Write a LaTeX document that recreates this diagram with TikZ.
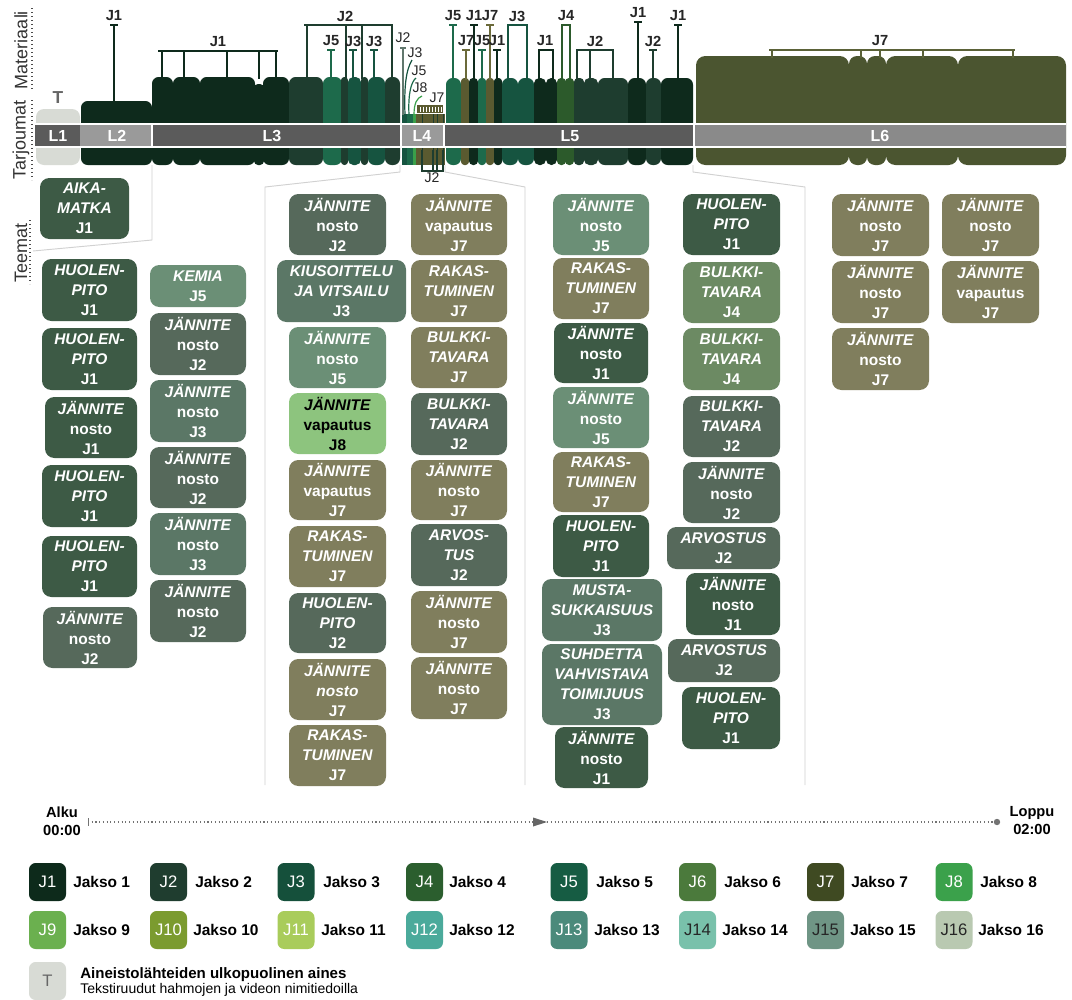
\documentclass[tikz,border=0pt]{standalone}
\usepackage{fontspec}
\setmainfont{Liberation Sans}

% segment colours in the top band
\definecolor{bJ1}{HTML}{0E2A1C}
\definecolor{bJ2}{HTML}{1E3D2F}
\definecolor{bJ3}{HTML}{165440}
\definecolor{bJ4}{HTML}{2C5A2B}
\definecolor{bJ5}{HTML}{1D6A4B}
\definecolor{bJ7}{HTML}{4B5530}
\definecolor{bJ7b}{HTML}{5A5A30}
\definecolor{bJ8}{HTML}{3AA04A}
\definecolor{bT}{HTML}{D8DBD5}
\definecolor{lnJ7}{HTML}{6B6A3A}
\definecolor{lnL6}{HTML}{5B6238}
% theme card colours
\definecolor{cJ1}{HTML}{3D5A45}
\definecolor{cJ2}{HTML}{56695B}
\definecolor{cJ3}{HTML}{5B7766}
\definecolor{cJ4}{HTML}{6C8A63}
\definecolor{cJ5}{HTML}{6B8F76}
\definecolor{cJ7}{HTML}{807E5D}
\definecolor{cJ8}{HTML}{8DC47E}
% legend colours
\definecolor{lJ1}{HTML}{0D2A1B}
\definecolor{lJ2}{HTML}{1F3D2F}
\definecolor{lJ3}{HTML}{15503B}
\definecolor{lJ4}{HTML}{2B5E2E}
\definecolor{lJ5}{HTML}{165C43}
\definecolor{lJ6}{HTML}{4B7A3C}
\definecolor{lJ7}{HTML}{3F4A22}
\definecolor{lJ8}{HTML}{3BA14B}
\definecolor{lJ9}{HTML}{6BB04F}
\definecolor{lJ10}{HTML}{7B9B2F}
\definecolor{lJ11}{HTML}{A9CC5B}
\definecolor{lJ12}{HTML}{4BAA9B}
\definecolor{lJ13}{HTML}{4B8A7B}
\definecolor{lJ14}{HTML}{79C1AB}
\definecolor{lJ15}{HTML}{6F9585}
\definecolor{lJ16}{HTML}{B9C9B1}
\definecolor{barD}{HTML}{5B5B5B}
\definecolor{barL}{HTML}{9A9A9A}
\definecolor{barS}{HTML}{8A8A8A}

\tikzset{
  lw/.style={line width=1.1pt},
  toplab/.style={font=\fontsize{11}{12}\selectfont\bfseries, text=black!85, inner sep=0},
  smalllab/.style={font=\fontsize{10.5}{12}\selectfont, text=black!85, inner sep=0},
  card/.style={rounded corners=7pt, text=white, align=center, inner sep=0,
    font=\fontsize{11.6}{15}\selectfont\bfseries},
  barlab/.style={text=white, font=\fontsize{12}{14}\selectfont\bfseries, inner sep=0},
  axlab/.style={rotate=90, font=\fontsize{13.5}{15}\selectfont, text=black!80, inner sep=0},
  funnel/.style={draw=black!18, line width=0.7pt},
  legbox/.style={rounded corners=5pt, minimum width=27.75pt, minimum height=28.5pt,
    inner sep=0, font=\fontsize{12.5}{14}\selectfont},
  legtxt/.style={font=\fontsize{11.6}{13}\selectfont\bfseries, inner sep=0, anchor=west},
  timelab/.style={align=center, font=\fontsize{11}{13.5}\selectfont\bfseries, inner sep=0},
}

% material block: [radius]{x1}{x2}{top}{colour}
\newcommand\blk[5][5pt]{\fill[#5, rounded corners=#1] (#2,#4) rectangle (#3,165);}
% single marker: {name}{x}{top}{bottom}{colour}{label}
\newcommand\tee[6]{%
  \node[toplab] (#1) at (#2,{#3-9}) {#6};
  \draw[#5,lw] (#2,#3) -- (#2,#4);
  \draw[#5,lw] ({#2-4},#3) -- ({#2+4},#3);}
% bracket: {xa}{xb}{y}{bottom}{colour}{drops}
\newcommand\brk[6]{%
  \draw[#5,lw] (#1,#3) -- (#2,#3);
  \foreach \dx in {#6} {\draw[#5,lw] (\dx,#3) -- (\dx,#4);}}
% theme card: [opts]{name}{x1}{y1}{x2}{y2}{colour}{text}
\newcommand\card[8][]{\node[card, fill=#7, #1,
  minimum width={(#5-#3)*0.75pt}, minimum height={(#6-#4)*0.75pt}]
  (#2) at ({(#3+#5)/2},{(#4+#6)/2}) {#8};}
\newcommand\cjn[1]{\textit{JÄNNITE}\\nosto\\#1}
\newcommand\cjv[1]{\textit{JÄNNITE}\\vapautus\\#1}
\newcommand\chp[1]{\textit{HUOLEN-}\\\textit{PITO}\\#1}
\newcommand\crt[1]{\textit{RAKAS-}\\\textit{TUMINEN}\\#1}
\newcommand\cbt[1]{\textit{BULKKI-}\\\textit{TAVARA}\\#1}
% legend entry: {box x}{y}{fill}{text colour}{label}{caption x}{caption}
\newcommand\legitem[7]{%
  \node[legbox, fill=#3, text=#4] (lg#5) at (#1,#2) {#5};
  \node[legtxt] (lt#5) at (#6,#2) {#7};}

\begin{document}
\begin{tikzpicture}[x=0.75pt,y=-0.75pt]
\useasboundingbox (0,0) rectangle (1072,1000);
\fill[white] (0,0) rectangle (1072,1000);

% ---------- axis titles ----------
\node[axlab] (ax1) at (21,50) {Materiaali};
\node[axlab] (ax2) at (21,140) {Tarjoumat};
\node[axlab] (ax3) at (21,253) {Teemat};
\draw[dotted, line width=1pt, black!70] (32,8) -- (32,90);
\draw[dotted, line width=1pt, black!70] (32,100) -- (32,180);
\draw[dotted, line width=1pt, black!70] (30,220) -- (30,284);

% ---------- material blocks ----------
\blk[6pt]{36}{80}{109}{bT}
\node[font=\fontsize{13}{14}\selectfont\bfseries, text=black!60, inner sep=0] (tmark) at (58,98) {T};
\blk{81}{152}{101}{bJ1}
% L3
\blk{152}{173}{77}{bJ1}
\blk{173}{200}{77}{bJ1}
\blk{200}{255}{77}{bJ1}
\blk[3pt]{254}{264}{84}{bJ1}
\blk{263}{289}{77}{bJ1}
\blk{289}{323}{77}{bJ2}
\blk{323}{342}{77}{bJ5}
\blk[2.5pt]{341}{348}{77}{bJ2}
\blk[4pt]{348}{361}{77}{bJ3}
\blk[2.5pt]{361}{368}{77}{bJ2}
\blk{368}{385}{77}{bJ3}
\blk{385}{400}{77}{bJ2}
% L4
\fill[bJ3] (402,114) rectangle (407,165);
\fill[bJ5] (407,114) rectangle (413,165);
\fill[bJ8] (413,114) rectangle (416,165);
\fill[bJ7b] (416,114) rectangle (445,165);
\foreach \s in {422,433,437,443} \draw[bJ2, line width=0.6pt] (\s,114) -- (\s,165);
\fill[bJ7b] (417,105) rectangle (443,113);
\foreach \s in {420,423,...,441} \draw[white, line width=0.7pt] (\s,106.5) -- (\s,111.5);
% L5
\blk{446}{461}{78}{bJ5}
\blk[2.5pt]{461}{469}{78}{bJ7b}
\blk[3pt]{469}{478}{78}{bJ1}
\blk[2.5pt]{478}{486}{78}{bJ5}
\blk[2.5pt]{486}{494}{78}{bJ7b}
\blk[2.5pt]{494}{502}{78}{bJ1}
\blk{502}{518}{78}{bJ3}
\blk{518}{534}{78}{bJ3}
\blk[4pt]{534}{546}{78}{bJ1}
\blk[4pt]{546}{557}{78}{bJ1}
\blk[3pt]{557}{566}{78}{bJ4}
\blk[3pt]{565}{574}{78}{bJ4}
\blk[3pt]{574}{584}{78}{bJ2}
\blk[4pt]{584}{598}{78}{bJ2}
\blk{598}{628}{78}{bJ2}
\blk{628}{646}{78}{bJ1}
\blk{646}{661}{78}{bJ2}
\blk{661}{693}{78}{bJ1}
% L6
\blk[7pt]{696}{849}{56}{bJ7}
\blk[6pt]{849}{867}{56}{bJ7}
\blk[6pt]{867}{886}{56}{bJ7}
\blk[7pt]{886}{958}{56}{bJ7}
\blk[7pt]{958}{1066}{56}{bJ7}

% ---------- offer bar ----------
\fill[barD] (35,124) rectangle (80,147);
\fill[barL] (80,124) rectangle (152,147);
\fill[barD] (152,124) rectangle (400,147);
\fill[barL] (400,124) rectangle (445,147);
\fill[barD] (445,124) rectangle (693,147);
\fill[barS] (693,124) rectangle (1066,147);
\draw[white, line width=1.2pt] (35,124) -- (1066,124);
\draw[white, line width=1.2pt] (35,147) -- (1066,147);
\foreach \s in {152,401,444,694} \draw[white, line width=1.2pt] (\s,124) -- (\s,147);
\node[barlab] (L1) at (58,136) {L1};
\node[barlab] (L2) at (117,136) {L2};
\node[barlab] (L3) at (272,136) {L3};
\node[barlab] (L4) at (422,136) {L4};
\node[barlab] (L5) at (570,136) {L5};
\node[barlab] (L6) at (880,136) {L6};

% ---------- markers ----------
\tee{m0}{114}{25}{103}{bJ1}{J1}
\brk{158}{278}{51}{79}{bJ1}{162,184,227,259,276}
\node[toplab] (m1) at (218,42) {J1};
\brk{304}{393}{25}{79}{bJ2}{307,346,362,392}
\node[toplab] (m2) at (345,16) {J2};
\tee{m3}{331}{50}{79}{bJ5}{J5}
\tee{m4}{353}{50}{79}{bJ3}{J3}
\tee{m5}{374}{50}{79}{bJ3}{J3}
% L4 markers
\draw[bJ2!70, line width=0.9pt] (403,48) -- (403,115);
\draw[bJ2!70, line width=0.9pt] (400,48) -- (406,48);
\node[smalllab] (k1) at (403,38) {J2};
\draw[bJ3, line width=0.9pt] (405,115) .. controls (404,86) and (406,70) .. (412,60);
\node[smalllab] (k2) at (415,53) {J3};
\draw[bJ5, line width=0.9pt] (409,115) .. controls (408,94) and (411,82) .. (416,78);
\node[smalllab] (k3) at (419,71) {J5};
\draw[bJ8, line width=0.9pt] (414,115) .. controls (414,103) and (417,98) .. (422,96);
\node[smalllab] (k4) at (420,88) {J8};
\node[smalllab] (k5) at (437,98) {J7};
\draw[bJ2, line width=0.9pt] (422,150) -- (422,171) -- (443,171) -- (443,150);
\draw[bJ2, line width=0.9pt] (433,150) -- (433,171);
\draw[bJ2, line width=0.9pt] (437,150) -- (437,171);
\node[smalllab] (k6) at (432,178) {J2};
% L5 markers
\tee{n1}{453}{25}{80}{bJ5}{J5}
\tee{n2}{474}{25}{80}{bJ1}{J1}
\tee{n3}{490}{25}{80}{lnJ7}{J7}
\tee{n4}{466}{50}{80}{lnJ7}{J7}
\tee{n5}{482}{50}{80}{bJ5}{J5}
\tee{n6}{497}{50}{80}{bJ1}{J1}
\brk{507}{528}{25}{80}{bJ3}{508,527}
\node[toplab] (n7) at (517,16) {J3};
\brk{561}{571}{25}{80}{bJ4}{562,570}
\node[toplab] (n8) at (566,16) {J4};
\brk{538}{554}{50}{80}{bJ1}{539,553}
\node[toplab] (n9) at (545,41) {J1};
\brk{576}{614}{50}{80}{bJ2}{577,590,613}
\node[toplab] (n10) at (595,41) {J2};
\tee{n11}{638}{22}{80}{bJ1}{J1}
\tee{n12}{653}{50}{80}{bJ2}{J2}
\tee{n13}{678}{25}{80}{bJ1}{J1}
% L6 markers
\brk{769}{1015}{50}{58}{lnL6}{772,861,880,923,1013}
\node[toplab] (p1) at (880,41) {J7};

% ---------- group outlines ----------
\draw[funnel] (152,165) -- (152,240) -- (33,251);
\draw[funnel] (400,165) -- (400,172) -- (265,187) -- (265,785);
\draw[funnel] (445,165) -- (445,172) -- (525,187) -- (525,785);
\draw[funnel] (693,165) -- (693,172) -- (805,187) -- (805,785);

% ---------- theme cards ----------
\card{aika}{40}{178}{129}{239}{cJ1}{\textit{AIKA-}\\\textit{MATKA}\\J1}
% L3, column 1
\card{a1}{42}{259}{137}{321}{cJ1}{\chp{J1}}
\card{a2}{42}{328}{137}{390}{cJ1}{\chp{J1}}
\card{a3}{45}{397}{137}{458}{cJ1}{\cjn{J1}}
\card{a4}{42}{465}{137}{527}{cJ1}{\chp{J1}}
\card{a5}{42}{536}{137}{597}{cJ1}{\chp{J1}}
\card{a6}{43}{607}{137}{668}{cJ2}{\cjn{J2}}
% L3, column 2
\card{b1}{150}{265}{246}{307}{cJ5}{\textit{KEMIA}\\J5}
\card{b2}{150}{313}{246}{375}{cJ2}{\cjn{J2}}
\card{b3}{150}{380}{246}{442}{cJ3}{\cjn{J3}}
\card{b4}{150}{447}{246}{508}{cJ2}{\cjn{J2}}
\card{b5}{150}{513}{246}{575}{cJ3}{\cjn{J3}}
\card{b6}{150}{580}{246}{642}{cJ2}{\cjn{J2}}
% L4, column 1
\card{c1}{289}{194}{386}{255}{cJ2}{\cjn{J2}}
\card{c2}{277}{260}{406}{322}{cJ3}{\textit{KIUSOITTELU}\\\textit{JA VITSAILU}\\J3}
\card{c3}{289}{327}{386}{388}{cJ5}{\cjn{J5}}
\card[text=black]{c4}{289}{393}{386}{454}{cJ8}{\cjv{J8}}
\card{c5}{289}{460}{386}{520}{cJ7}{\cjv{J7}}
\card{c6}{289}{526}{386}{587}{cJ7}{\crt{J7}}
\card{c7}{289}{593}{386}{653}{cJ2}{\chp{J2}}
\card{c8}{289}{659}{386}{720}{cJ7}{\textit{JÄNNITE}\\\textit{nosto}\\J7}
\card{c9}{289}{725}{386}{786}{cJ7}{\crt{J7}}
% L4, column 2
\card{d1}{411}{194}{507}{255}{cJ7}{\cjv{J7}}
\card{d2}{411}{260}{507}{322}{cJ7}{\crt{J7}}
\card{d3}{411}{327}{507}{388}{cJ7}{\cbt{J7}}
\card{d4}{411}{393}{507}{455}{cJ2}{\cbt{J2}}
\card{d5}{411}{460}{507}{520}{cJ7}{\cjn{J7}}
\card{d6}{411}{524}{507}{586}{cJ2}{\textit{ARVOS-}\\\textit{TUS}\\J2}
\card{d7}{411}{591}{507}{653}{cJ7}{\cjn{J7}}
\card{d8}{411}{657}{507}{719}{cJ7}{\cjn{J7}}
% L5, column 1
\card{e1}{553}{194}{649}{255}{cJ5}{\cjn{J5}}
\card{e2}{553}{258}{649}{319}{cJ7}{\crt{J7}}
\card{e3}{554}{323}{648}{383}{cJ1}{\cjn{J1}}
\card{e4}{553}{387}{649}{448}{cJ5}{\cjn{J5}}
\card{e5}{553}{452}{649}{512}{cJ7}{\crt{J7}}
\card{e6}{553}{515}{649}{577}{cJ1}{\chp{J1}}
\card{e7}{542}{579}{662}{641}{cJ3}{\textit{MUSTA-}\\\textit{SUKKAISUUS}\\J3}
\card{e8}{542}{644}{662}{725}{cJ3}{\textit{SUHDETTA}\\\textit{VAHVISTAVA}\\\textit{TOIMIJUUS}\\J3}
\card{e9}{555}{727}{648}{788}{cJ1}{\cjn{J1}}
% L5, column 2
\card{f1}{683}{194}{780}{255}{cJ1}{\chp{J1}}
\card{f2}{683}{262}{780}{323}{cJ4}{\cbt{J4}}
\card{f3}{683}{328}{780}{390}{cJ4}{\cbt{J4}}
\card{f4}{683}{396}{780}{457}{cJ2}{\cbt{J2}}
\card{f5}{683}{462}{780}{523}{cJ2}{\cjn{J2}}
\card{f6}{667}{527}{780}{569}{cJ2}{\textit{ARVOSTUS}\\J2}
\card{f7}{686}{573}{780}{635}{cJ1}{\cjn{J1}}
\card{f8}{668}{639}{780}{682}{cJ2}{\textit{ARVOSTUS}\\J2}
\card{f9}{682}{687}{780}{749}{cJ1}{\chp{J1}}
% L6
\card{g1}{832}{194}{929}{256}{cJ7}{\cjn{J7}}
\card{g2}{832}{261}{929}{323}{cJ7}{\cjn{J7}}
\card{g3}{832}{328}{929}{390}{cJ7}{\cjn{J7}}
\card{h1}{942}{194}{1039}{256}{cJ7}{\cjn{J7}}
\card{h2}{942}{261}{1039}{323}{cJ7}{\cjv{J7}}

% ---------- timeline ----------
\node[timelab] (alku) at (62,821) {Alku\\00:00};
\node[timelab] (loppu) at (1032,821) {Loppu\\02:00};
\coordinate (tstart) at (88,822);
\coordinate (tend) at (997,822);
\draw[black!55, dotted, line width=0.8pt] (tstart) -- (tend);
\draw[black!55, line width=0.6pt] (88,818) -- (88,826);
\fill[black!60] (533,817.5) -- (547,822) -- (533,826.5) -- cycle;
\fill[black!55] (tend) circle (3.2);

% ---------- legend ----------
\legitem{47.5}{882}{lJ1}{white}{J1}{73}{Jakso 1}
\legitem{168.5}{882}{lJ2}{white}{J2}{195}{Jakso 2}
\legitem{296}{882}{lJ3}{white}{J3}{323}{Jakso 3}
\legitem{424.5}{882}{lJ4}{white}{J4}{449}{Jakso 4}
\legitem{569}{882}{lJ5}{white}{J5}{596}{Jakso 5}
\legitem{697.5}{882}{lJ6}{white}{J6}{724}{Jakso 6}
\legitem{825.5}{882}{lJ7}{white}{J7}{851}{Jakso 7}
\legitem{954}{882}{lJ8}{white}{J8}{980}{Jakso 8}
\legitem{47.5}{930}{lJ9}{white}{J9}{73}{Jakso 9}
\legitem{168.5}{930}{lJ10}{white}{J10}{193}{Jakso 10}
\legitem{296}{930}{lJ11}{white}{J11}{321}{Jakso 11}
\legitem{424.5}{930}{lJ12}{white}{J12}{449}{Jakso 12}
\legitem{569}{930}{lJ13}{white}{J13}{594}{Jakso 13}
\legitem{697.5}{930}{lJ14}{black!85}{J14}{722}{Jakso 14}
\legitem{825.5}{930}{lJ15}{black!85}{J15}{850}{Jakso 15}
\legitem{954}{930}{lJ16}{black!85}{J16}{978}{Jakso 16}
\node[legbox, fill=bT, text=black!60] (lgT) at (47.5,981) {T};
\node[inner sep=0, anchor=west, font=\fontsize{11.3}{12}\selectfont\bfseries] (ltT1) at (80,975) {Aineistolähteiden ulkopuolinen aines};
\node[inner sep=0, anchor=west, font=\fontsize{10.5}{12}\selectfont] (ltT2) at (80,990) {Tekstiruudut hahmojen ja videon nimitiedoilla};

\end{tikzpicture}
\end{document}
